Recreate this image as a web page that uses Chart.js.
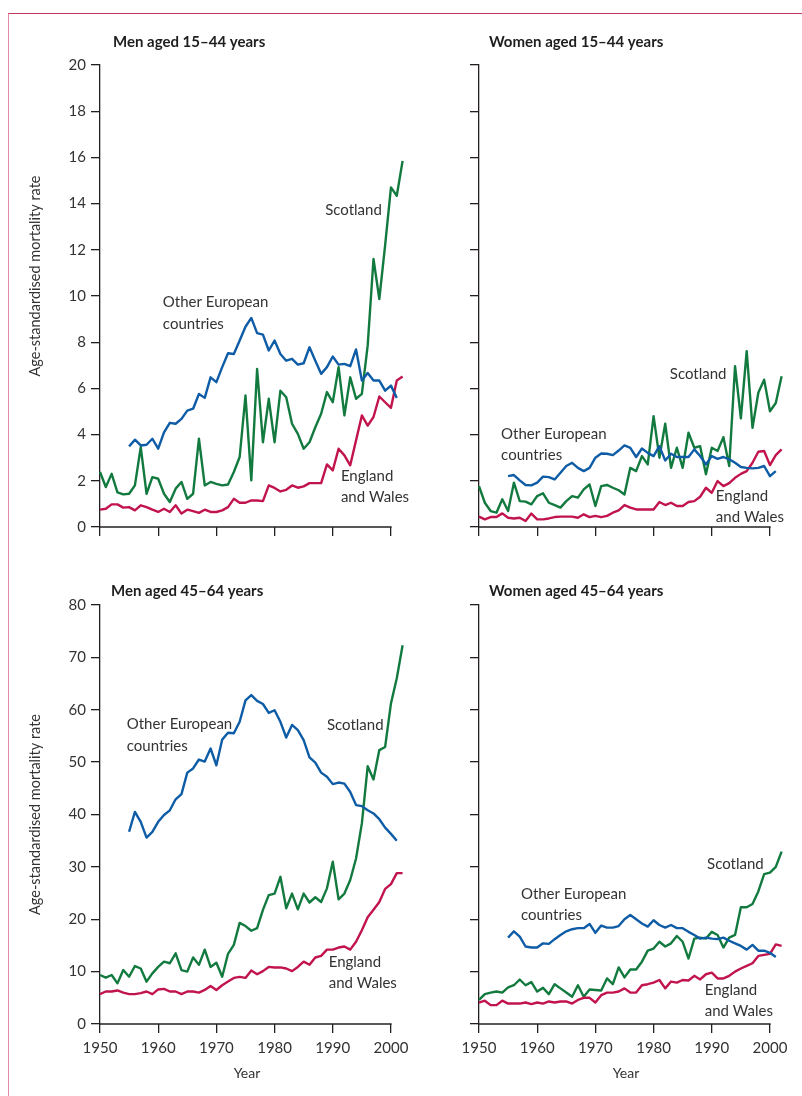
<!DOCTYPE html>
<html>
<head>
<meta charset="utf-8">
<title>Age-standardised mortality rate</title>
<script src="https://cdn.jsdelivr.net/npm/chart.js@4.4.1/dist/chart.umd.min.js"></script>
<style>
  body { margin: 0; background: #fff; }
  #page { position: relative; width: 802px; height: 1096px; overflow: hidden; }
  .frame { position: absolute; left: 8px; top: 13px; right: 0; bottom: 0;
           border-top: 1.5px solid #c4365c; border-left: 1.5px solid #e58aa5; }
  canvas { position: absolute; }
  #menYoung { left: 10px; top: 30px; }
  #womenYoung { left: 430px; top: 30px; }
  #menOld { left: 10px; top: 570px; }
  #womenOld { left: 430px; top: 570px; }
</style>
</head>
<body>
<div id="page">
  <div class="frame"></div>
  <canvas id="menYoung" width="410" height="540"></canvas>
  <canvas id="womenYoung" width="370" height="540"></canvas>
  <canvas id="menOld" width="410" height="526"></canvas>
  <canvas id="womenOld" width="370" height="526"></canvas>
</div>
<script>
const years = [
  1950, 1951, 1952, 1953, 1954, 1955, 1956, 1957, 1958, 1959,
  1960, 1961, 1962, 1963, 1964, 1965, 1966, 1967, 1968, 1969,
  1970, 1971, 1972, 1973, 1974, 1975, 1976, 1977, 1978, 1979,
  1980, 1981, 1982, 1983, 1984, 1985, 1986, 1987, 1988, 1989,
  1990, 1991, 1992, 1993, 1994, 1995, 1996, 1997, 1998, 1999,
  2000, 2001, 2002
];
const yearTicks = [1950, 1960, 1970, 1980, 1990, 2000];

// Men aged 15-44
const menYoungScotland = [
  2.38, 1.73, 2.3, 1.5, 1.41, 1.44, 1.8, 3.46, 1.44, 2.16,
  2.09, 1.44, 1.08, 1.66, 1.95, 1.22, 1.44, 3.82, 1.8, 1.95,
  1.87, 1.8, 1.84, 2.38, 3.03, 5.69, 2.02, 6.84, 3.67, 5.55,
  3.67, 5.9, 5.62, 4.47, 4.03, 3.39, 3.67, 4.32, 4.9, 5.84,
  5.4, 6.92, 4.83, 6.48, 5.55, 5.76, 7.85, 11.6, 9.87, 12.2,
  14.7, 14.34, 15.85
];
const menYoungOther = [
  null, null, null, null, null, 3.49, 3.78, 3.53, 3.56, 3.82,
  3.39, 4.1, 4.51, 4.47, 4.68, 5.04, 5.12, 5.76, 5.59, 6.48,
  6.27, 6.92, 7.52, 7.49, 8.07, 8.67, 9.05, 8.39, 8.33, 7.64,
  8.07, 7.49, 7.2, 7.28, 7.03, 7.09, 7.78, 7.2, 6.63, 6.92,
  7.38, 7.03, 7.06, 6.96, 7.69, 6.34, 6.67, 6.34, 6.34, 5.9,
  6.12, 5.59, null
];
const menYoungEW = [
  0.75, 0.79, 0.98, 0.98, 0.84, 0.86, 0.72, 0.94, 0.86, 0.75,
  0.65, 0.79, 0.65, 0.94, 0.58, 0.75, 0.69, 0.61, 0.75, 0.65,
  0.65, 0.72, 0.86, 1.22, 1.05, 1.05, 1.15, 1.15, 1.12, 1.8,
  1.69, 1.54, 1.61, 1.8, 1.7, 1.76, 1.9, 1.9, 1.9, 2.71,
  2.45, 3.39, 3.1, 2.67, 3.75, 4.83, 4.39, 4.76, 5.65, 5.4,
  5.16, 6.34, 6.51
];

// Women aged 15-44
const womenYoungScotland = [
  1.77, 1.05, 0.69, 0.62, 1.2, 0.69, 1.92, 1.12, 1.1, 0.98,
  1.34, 1.46, 1.05, 0.95, 0.84, 1.12, 1.34, 1.27, 1.63, 1.84,
  0.91, 1.77, 1.82, 1.7, 1.59, 1.41, 2.56, 2.42, 3.07, 2.71,
  4.8, 3.0, 4.47, 2.56, 3.43, 2.56, 4.08, 3.43, 3.5, 2.28,
  3.43, 3.29, 3.89, 2.64, 6.96, 4.7, 7.61, 4.29, 5.81, 6.38,
  5.01, 5.37, 6.53
];
const womenYoungOther = [
  null, null, null, null, null, 2.2, 2.25, 2.02, 1.82, 1.8,
  1.92, 2.18, 2.16, 2.06, 2.35, 2.64, 2.78, 2.56, 2.42, 2.56,
  3.0, 3.18, 3.17, 3.11, 3.31, 3.53, 3.43, 3.03, 3.4, 3.21,
  3.07, 3.5, 2.88, 3.17, 3.03, 3.03, 3.03, 3.36, 3.07, 2.71,
  3.07, 2.95, 3.03, 2.93, 2.78, 2.6, 2.56, 2.54, 2.56, 2.64,
  2.2, 2.42, null
];
const womenYoungEW = [
  0.45, 0.33, 0.43, 0.43, 0.59, 0.4, 0.37, 0.4, 0.26, 0.58,
  0.33, 0.33, 0.37, 0.43, 0.45, 0.45, 0.45, 0.4, 0.55, 0.43,
  0.48, 0.43, 0.48, 0.62, 0.72, 0.95, 0.84, 0.76, 0.76, 0.76,
  0.76, 1.08, 0.95, 1.05, 0.91, 0.91, 1.08, 1.12, 1.31, 1.7,
  1.48, 1.99, 1.77, 1.9, 2.13, 2.3, 2.42, 2.78, 3.26, 3.29,
  2.68, 3.11, 3.36
];

// Men aged 45-64
const menOldScotland = [
  9.35, 8.84, 9.35, 7.76, 10.3, 9.03, 11.07, 10.6, 8.08, 9.67,
  10.9, 11.9, 11.6, 13.5, 10.3, 10.0, 12.7, 11.3, 14.2, 10.9,
  11.7, 9.03, 13.4, 15.1, 19.3, 18.7, 17.8, 18.3, 21.8, 24.6,
  24.9, 28.1, 22.1, 24.9, 21.9, 24.9, 23.2, 24.2, 23.3, 25.9,
  31.0, 23.8, 24.9, 27.5, 31.6, 38.3, 49.2, 46.7, 52.3, 52.9,
  61.2, 66.0, 72.3
];
const menOldOther = [
  null, null, null, null, null, 36.7, 40.5, 38.6, 35.6, 36.7,
  38.6, 39.9, 40.8, 42.9, 43.9, 48.0, 48.8, 50.5, 50.1, 52.6,
  49.4, 54.3, 55.6, 55.5, 57.7, 61.8, 62.8, 61.7, 61.1, 59.4,
  59.9, 57.7, 54.7, 57.1, 56.1, 54.2, 50.9, 49.9, 48.0, 47.2,
  45.8, 46.1, 45.9, 44.3, 41.8, 41.6, 40.8, 40.2, 39.1, 37.5,
  36.3, 35.0, null
];
const menOldEW = [
  5.7, 6.2, 6.2, 6.4, 6.0, 5.7, 5.7, 5.9, 6.2, 5.7,
  6.6, 6.7, 6.2, 6.2, 5.7, 6.2, 6.2, 6.0, 6.5, 7.25,
  6.5, 7.4, 8.1, 8.8, 9.0, 8.8, 10.2, 9.5, 10.1, 10.9,
  10.8, 10.8, 10.6, 10.1, 10.9, 11.9, 11.3, 12.7, 13.0, 14.2,
  14.2, 14.6, 14.8, 14.2, 15.7, 17.9, 20.4, 21.8, 23.3, 25.8,
  26.7, 28.8, 28.8
];

// Women aged 45-64
const womenOldScotland = [
  4.6, 5.7, 6.0, 6.2, 6.0, 7.0, 7.4, 8.5, 7.4, 8.0,
  6.2, 6.9, 5.7, 7.6, 6.8, 6.0, 5.2, 7.4, 5.2, 6.6,
  6.5, 6.4, 8.7, 7.6, 10.8, 8.9, 10.4, 10.4, 11.9, 14.0,
  14.4, 15.7, 14.8, 15.4, 16.8, 15.7, 12.5, 16.3, 16.5, 16.3,
  17.6, 17.0, 14.6, 16.5, 17.0, 22.3, 22.3, 22.9, 25.3, 28.6,
  28.9, 30.0, 32.9
];
const womenOldOther = [
  null, null, null, null, null, 16.5, 17.7, 16.7, 14.8, 14.6,
  14.6, 15.4, 15.3, 16.2, 17.0, 17.7, 18.1, 18.3, 18.3, 19.1,
  17.4, 18.8, 18.4, 18.4, 18.7, 20.0, 20.8, 20.0, 19.2, 18.6,
  19.8, 18.9, 18.4, 18.9, 18.3, 18.3, 17.6, 17.0, 16.3, 16.5,
  16.3, 16.2, 16.5, 15.9, 15.4, 14.9, 14.2, 15.1, 14.0, 14.0,
  13.6, 12.8, null
];
const womenOldEW = [
  4.1, 4.45, 3.6, 3.6, 4.45, 3.9, 3.9, 3.9, 4.1, 3.8,
  4.1, 3.9, 4.3, 4.1, 4.3, 4.3, 3.9, 4.6, 5.0, 5.0,
  4.1, 5.5, 6.0, 6.0, 6.2, 6.8, 6.0, 6.0, 7.4, 7.6,
  7.9, 8.4, 6.8, 8.1, 7.9, 8.4, 8.3, 9.2, 8.5, 9.5,
  9.8, 8.7, 8.7, 9.2, 10.0, 10.6, 11.1, 11.6, 13.0, 13.2,
  13.4, 15.2, 14.9
];

const FONT = "Lato, 'Open Sans', sans-serif";
const AXIS = "#231f20";
const TEXT = "#333333";
const GREEN = "#137a3f";
const BLUE = "#0e5ca6";
const RED = "#c2144c";

// x axis baseline only runs 1950-2000, the series run on to 2002
const yearBaseline = {
  id: "yearBaseline",
  beforeDatasetsDraw(chart) {
    const { ctx, chartArea, scales } = chart;
    ctx.save();
    ctx.strokeStyle = AXIS;
    ctx.lineWidth = 1.3;
    ctx.beginPath();
    ctx.moveTo(scales.x.getPixelForValue(yearTicks[0]), chartArea.bottom);
    ctx.lineTo(scales.x.getPixelForValue(yearTicks[yearTicks.length - 1]) + 0.65, chartArea.bottom);
    ctx.stroke();
    ctx.restore();
  },
};

// panel heading, axis titles and the in-plot series labels
const panelText = {
  id: "panelText",
  afterDatasetsDraw(chart, args, opts) {
    const { ctx, chartArea, scales } = chart;
    ctx.save();
    ctx.textBaseline = "middle";
    ctx.textAlign = "left";
    ctx.fillStyle = "#1e1e1e";
    ctx.font = "bold 15px " + FONT;
    ctx.fillText(opts.title, chartArea.left + opts.titleDx, chartArea.top + opts.titleDy);

    ctx.fillStyle = TEXT;
    ctx.font = "15px " + FONT;
    opts.notes.forEach(function (n) {
      ctx.fillText(n.text, scales.x.getPixelForValue(n.year), scales.y.getPixelForValue(n.value));
    });

    if (opts.yTitle) {
      ctx.save();
      ctx.font = "14.5px " + FONT;
      ctx.textAlign = "center";
      ctx.translate(25, (chartArea.top + chartArea.bottom) / 2 + opts.yTitleDy);
      ctx.rotate(-Math.PI / 2);
      ctx.fillText(opts.yTitle, 0, 0);
      ctx.restore();
    }
    if (opts.xTitle) {
      const mid = (scales.x.getPixelForValue(yearTicks[0]) + scales.x.getPixelForValue(yearTicks[yearTicks.length - 1])) / 2;
      ctx.font = "14px " + FONT;
      ctx.textAlign = "center";
      ctx.fillText(opts.xTitle, mid + 1.5, chartArea.bottom + 49);
    }
    ctx.restore();
  },
};

function points(values) {
  return values.map(function (v, i) {
    return { x: years[i], y: v };
  });
}

function line(label, values, color) {
  return {
    label: label,
    data: points(values),
    borderColor: color,
    backgroundColor: color,
    borderWidth: 2.4,
    pointRadius: 0,
    tension: 0,
    fill: false,
    clip: false,
    borderJoinStyle: "round",
  };
}

function buildPanel(id, p) {
  const ctx = document.getElementById(id).getContext("2d");
  return new Chart(ctx, {
    type: "line",
    data: {
      datasets: [
        line("Other European countries", p.other, BLUE),
        line("England and Wales", p.ew, RED),
        line("Scotland", p.scot, GREEN),
      ],
    },
    options: {
      responsive: false,
      animation: false,
      layout: { padding: { top: 35, right: p.padRight, left: 0, bottom: 0 } },
      plugins: {
        legend: { display: false },
        tooltip: { enabled: false },
        panelText: {
          title: p.title, titleDx: p.titleDx, titleDy: p.titleDy, notes: p.notes,
          yTitle: p.showValues ? "Age-standardised mortality rate" : "",
          yTitleDy: p.yTitleDy,
          xTitle: p.showYears ? "Year" : "",
        },
      },
      scales: {
        x: {
          type: "linear",
          min: years[0],
          max: years[years.length - 1],
          afterFit: function (s) { s.height = p.xHeight; },
          afterBuildTicks: function (s) { s.ticks = yearTicks.map(function (v) { return { value: v }; }); },
          border: { display: false },
          grid: { display: true, drawOnChartArea: false, drawTicks: true, tickLength: 9, color: AXIS, lineWidth: 1.3 },
          ticks: {
            display: p.showYears,
            maxRotation: 0,
            padding: 6,
            color: TEXT,
            font: { family: FONT, size: 15 },
            callback: function (v) { return String(v); },
          },
        },
        y: {
          min: 0,
          max: p.yMax,
          afterFit: function (s) { s.width = p.yWidth; },
          border: { display: true, color: AXIS, width: 1.3 },
          grid: { display: true, drawOnChartArea: false, drawTicks: true, tickLength: 9, color: AXIS, lineWidth: 1.3 },
          ticks: {
            display: p.showValues,
            stepSize: p.yStep,
            padding: 5,
            color: TEXT,
            font: { family: FONT, size: 15 },
          },
        },
      },
    },
    plugins: [yearBaseline, panelText],
  });
}

document.addEventListener("DOMContentLoaded", function () {
  buildPanel("menYoung", {
    title: "Men aged 15–44 years", titleDx: 13, titleDy: -23,
    scot: menYoungScotland, other: menYoungOther, ew: menYoungEW,
    yMax: 20, yStep: 2, yWidth: 90, padRight: 17.4, xHeight: 43, yTitleDy: -20,
    showValues: true, showYears: false,
    notes: [
      { text: "Scotland", year: 1988.7, value: 13.7 },
      { text: "Other European", year: 1960.8, value: 9.74 },
      { text: "countries", year: 1960.8, value: 8.79 },
      { text: "England", year: 1991.4, value: 2.2 },
      { text: "and Wales", year: 1991.4, value: 1.3 },
    ],
  });
  buildPanel("womenYoung", {
    title: "Women aged 15–44 years", titleDx: 10, titleDy: -23,
    scot: womenYoungScotland, other: womenYoungOther, ew: womenYoungEW,
    yMax: 20, yStep: 2, yWidth: 49, padRight: 18.4, xHeight: 43, yTitleDy: 0,
    showValues: false, showYears: false,
    notes: [
      { text: "Scotland", year: 1982.8, value: 6.62 },
      { text: "Other European", year: 1953.8, value: 4.03 },
      { text: "countries", year: 1953.8, value: 3.12 },
      { text: "England", year: 1990.7, value: 1.34 },
      { text: "and Wales", year: 1990.7, value: 0.43 },
    ],
  });
  buildPanel("menOld", {
    title: "Men aged 45–64 years", titleDx: 11, titleDy: -14,
    scot: menOldScotland, other: menOldOther, ew: menOldEW,
    yMax: 80, yStep: 10, yWidth: 90, padRight: 17.4, xHeight: 72, yTitleDy: 0,
    showValues: true, showYears: true,
    notes: [
      { text: "Other European", year: 1954.6, value: 57.3 },
      { text: "countries", year: 1954.6, value: 53.1 },
      { text: "Scotland", year: 1989.0, value: 57.1 },
      { text: "England", year: 1989.3, value: 11.8 },
      { text: "and Wales", year: 1989.3, value: 7.8 },
    ],
  });
  buildPanel("womenOld", {
    title: "Women aged 45–64 years", titleDx: 10, titleDy: -14,
    scot: womenOldScotland, other: womenOldOther, ew: womenOldEW,
    yMax: 80, yStep: 10, yWidth: 49, padRight: 18.4, xHeight: 72, yTitleDy: 0,
    showValues: false, showYears: true,
    notes: [
      { text: "Scotland", year: 1989.2, value: 30.5 },
      { text: "Other European", year: 1957.2, value: 24.8 },
      { text: "countries", year: 1957.2, value: 20.8 },
      { text: "England", year: 1988.8, value: 6.5 },
      { text: "and Wales", year: 1988.8, value: 2.5 },
    ],
  });
});
</script>
</body>
</html>
